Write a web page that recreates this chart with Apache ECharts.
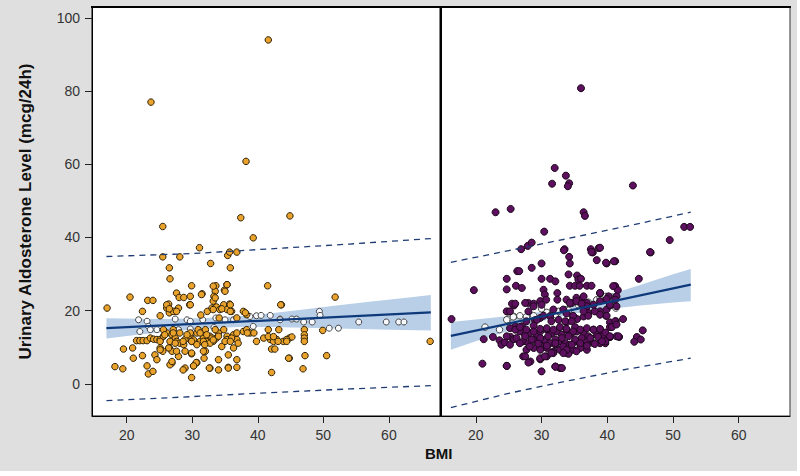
<!DOCTYPE html>
<html><head><meta charset="utf-8">
<script src="https://cdn.jsdelivr.net/npm/echarts@6/dist/echarts.min.js"></script>
<style>html,body{margin:0;padding:0;background:#fff;}#c{width:797px;height:471px;background:#dfdfdf;}</style>
</head><body><div id="c"></div>
<script>
var xTicks = [20, 30, 40, 50, 60];
var yTicks = [0, 20, 40, 60, 80, 100];
var xTitle = 'BMI';
var yTitle = 'Urinary Aldosterone Level (mcg/24h)';

// Left panel observed points
var leftPoints = [
[41.6,94.0],[23.7,77.0],[38.2,60.8],[25.5,43.0],[37.4,45.4],[44.9,45.9],[39.3,39.9],[31.1,37.2],
[25.5,34.7],[28.1,34.7],[26.5,31.7],[32.8,32.9],[35.4,35.1],[35.8,31.7],[36.8,36.0],[35.7,36.0],
[26.6,28.7],[29.9,26.8],[33.6,26.8],[35.3,27.1],[33.5,25.3],[34.9,25.6],[41.5,26.8],
[20.5,23.7],[23.2,22.8],[24.0,22.8],[27.6,24.8],[28.0,23.6],[28.7,23.6],[29.7,23.9],[31.5,24.6],[33.3,23.9],[33.2,22.6],
[17.0,20.7],[22.4,19.8],[26.4,21.8],[26.1,20.7],[27.9,20.7],[29.6,21.6],[27.4,19.8],[32.3,19.8],[33.0,20.7],[33.7,21.0],
[34.8,21.6],[35.7,21.8],[36.0,19.8],[34.2,20.3],[35.3,20.3],[37.8,19.8],[38.3,18.9],[43.6,21.6],[31.3,18.8],[34.1,18.0],
[36.8,18.0],[25.1,18.6],[26.5,19.4],[27.1,19.8],
[21.5,11.8],[22.0,11.8],[22.5,11.8],[23.1,11.8],[23.6,12.5],[24.1,12.2],[24.6,12.1],[25.1,12.1],[25.6,13.0],[26.1,13.9],
[26.9,13.4],[27.4,12.5],[27.6,11.6],[28.1,11.1],[28.9,12.1],[29.7,13.0],[29.9,11.6],[30.7,13.9],[31.2,11.6],[31.7,12.5],
[32.2,11.6],[32.7,13.0],[33.2,11.6],[33.7,12.5],[34.0,13.9],[34.8,14.8],[35.3,13.0],[35.8,12.1],[36.3,13.4],[36.8,12.1],
[37.8,14.3],[38.3,14.8],[38.8,13.9],[39.8,11.6],[40.9,12.5],[41.9,12.1],[42.9,12.1],[43.9,11.6],[41.6,14.8],[43.2,14.8],
[25.6,14.8],[27.1,14.8],[29.7,13.9],[30.9,14.8],[32.0,14.8],[33.5,14.8],
[19.5,9.5],[20.9,9.8],[22.4,7.7],[21.0,7.0],[24.3,7.9],[24.6,6.6],[25.1,9.8],[25.5,8.9],[26.5,9.8],[26.9,8.9],[27.9,7.5],
[28.7,10.7],[26.9,5.7],[29.9,8.2],[30.7,5.8],[30.2,4.9],[32.0,8.9],[31.8,7.0],[34.0,6.6],[34.5,10.2],[35.5,7.9],[36.3,9.8],
[36.8,6.6],[18.2,4.7],[19.4,4.1],[23.1,4.9],[23.3,2.7],[24.0,3.4],[29.9,1.7],[32.7,4.3],[34.0,3.8],[35.5,4.5],[36.8,4.5],
[42.1,3.1],[28.9,4.3],[26.6,5.2],[42.1,9.5],[42.4,11.6],
[51.8,23.7],[44.8,12.5],[45.2,12.8],[44.4,12.1],[47.1,14.8],[47.1,13.4],[47.1,12.5],[47.1,11.6],[49.9,14.6],[44.8,7.0],
[47.2,7.7],[50.5,7.7],[46.9,4.1],[66.3,11.6],
[26.1,21.6],[26.5,20.5],[27.6,19.8],[29.7,21.6],[31.4,24.4],[33.2,26.7],[33.5,23.5],[35.0,25.3],[35.3,27.1],[33.2,20.3],
[34.5,20.5],[35.8,21.6],[35.8,19.8],[38.1,19.4],[43.5,21.6],
[25.8,13.4],[27.1,13.9],[28.1,13.9],[29.2,13.4],[30.2,12.0],[31.2,13.9],[32.2,13.4],[33.0,12.5],[34.0,13.0],[35.3,12.1],
[36.0,12.5],[36.8,13.9],[38.4,13.9],[39.4,13.9],
[25.1,11.6],[26.6,11.6],[27.4,11.1],[28.6,11.6],[29.9,11.6],[30.7,10.7],[31.7,11.6],[32.7,11.1],[33.2,12.0],[35.0,11.6],
[35.8,11.6],[37.0,11.1],[41.6,12.9],[42.4,12.9],[43.1,11.6],[42.6,9.5],
[25.1,9.3],[26.4,9.8],[27.6,8.9],[28.9,8.9],[29.9,8.4],[31.9,10.7],[31.7,8.9],[26.9,6.1],[30.6,5.8],[28.6,3.8],[30.2,4.9],
[32.6,4.3],[35.5,4.3],[44.4,11.6],[44.7,7.0]
];
var leftOpen = [
[21.8,17.5],[23.1,17.1],[23.3,15.7],[24.6,14.8],[27.4,17.7],[29.2,17.5],[29.7,17.1],[31.6,17.5],[33.6,18.0],[35.0,17.5],
[36.3,17.5],[38.8,18.4],[39.8,18.6],[40.5,18.7],[41.9,18.7],[43.4,17.7],[22.0,14.3],[23.6,14.8],[27.9,14.8],[29.7,15.0],
[33.3,15.4],[39.3,15.7],
[43.4,17.5],[45.2,17.7],[45.9,17.7],[47.0,16.9],[48.3,16.9],[49.4,19.8],[49.5,18.7],[50.9,15.2],[52.3,15.2],[55.4,16.9],
[59.6,16.9],[61.5,16.9],[62.3,16.9]
];
var leftFitX = [16.9, 66.4];
var leftFitY = [15.2, 19.5];
var leftBandX = [16.9, 22, 27, 32, 37, 42, 47, 52, 57, 62, 66.4];
var leftBandLo = [12.4, 13.5, 14.4, 15.1, 15.5, 15.5, 15.35, 15.15, 14.9, 14.7, 14.6];
var leftBandHi = [17.9, 17.8, 17.7, 18.0, 18.5, 19.3, 20.3, 21.4, 22.4, 23.4, 24.3];
var leftPredX = [16.9, 30, 42, 54, 66.4];
var leftPredHi = [34.8, 35.6, 36.9, 38.2, 39.7];
var leftPredLo = [-4.6, -3.5, -2.4, -1.4, -0.5];

// Right panel observed points
var rightPoints = [
[36.0,80.8],[32.0,59.0],[33.7,56.9],[31.6,54.7],[34.2,54.8],[34.0,54.0],[43.9,54.2],[23.0,46.9],[25.3,47.8],[36.4,46.9],
[36.6,45.9],[30.4,41.6],[51.7,42.9],[52.6,42.9],[49.5,39.3],[26.9,36.8],[27.9,37.7],[28.5,38.6],[33.5,36.8],[37.5,36.8],
[37.8,35.9],[38.7,37.1],[46.6,35.9],[34.2,34.7],
[46.5,36.0],[38.9,37.2],[39.9,32.9],[41.2,33.5],[44.8,28.7],[41.2,26.7],[41.6,25.6],[38.9,24.8],[38.9,19.8],[39.8,18.6],
[40.4,16.8],[41.3,17.1],[42.4,17.7],[40.4,15.5],[39.3,13.7],[40.4,12.8],[41.8,12.8],[45.4,14.6],[44.5,12.8],[45.1,12.1],
[44.1,11.5],[39.7,11.1],[39.4,12.1],
[16.3,17.7],[19.7,25.6],[21.2,12.2],[21.0,5.5],[24.7,4.9],[22.6,12.8],[23.6,11.9],[23.9,10.7],[24.4,11.3],[25.3,12.8],
[25.8,12.2],[26.3,30.8],[26.6,30.8],[28.5,31.7],[30.0,32.9],[26.1,26.8],[27.0,26.2],[30.0,28.7],[31.3,28.7],[32.1,28.0],
[24.7,25.8],[25.8,21.4],[24.7,19.8],[28.0,22.1],[27.5,22.1],[28.8,21.9],[29.8,22.6],[34.3,26.8],[35.1,26.8],[35.8,26.8],
[36.9,26.8],[37.6,26.8],[34.1,29.9],[35.4,29.6],[35.6,28.5],[33.4,36.5],[37.6,36.0],[38.4,33.8],[39.8,33.1],[41.0,33.5],
[30.3,25.7],[30.5,24.4],[30.7,23.0],[32.4,24.8],[32.4,23.0],[33.8,23.0],[34.6,22.1],[35.9,23.0],[36.9,22.1],[38.9,24.8],
[40.2,23.9],[41.4,23.9],[40.9,26.7],[26.0,15.7],[27.0,15.7],[27.7,17.1],[29.0,17.4],[29.8,18.0],[31.3,18.5],[33.8,16.8],
[34.8,18.4],[35.4,17.7],[36.4,18.4],[37.1,19.4],[38.1,19.8],[38.9,18.9],[39.9,20.3],[40.4,21.4],[41.4,21.2],
[26.7,14.3],[27.5,13.4],[28.2,13.9],[29.3,13.4],[29.8,14.3],[30.8,14.8],[31.6,13.9],[32.3,14.3],[33.1,13.4],[33.8,14.8],
[34.6,13.9],[35.4,14.3],[36.4,13.9],[37.1,13.0],[37.9,14.8],[38.4,13.4],[39.4,13.0],[40.4,12.8],[41.4,13.0],
[27.2,11.6],[28.0,11.1],[28.8,12.0],[29.8,10.7],[30.5,12.0],[31.3,11.1],[32.1,10.7],[32.8,11.6],[33.6,11.1],[34.3,10.7],
[35.1,11.6],[35.9,10.7],[36.9,11.6],[37.9,11.1],[38.9,11.1],[39.7,11.6],
[27.7,9.3],[28.8,9.8],[29.8,9.3],[30.8,9.8],[31.8,8.8],[32.8,9.3],[33.8,8.4],[34.8,9.3],[35.9,9.8],[36.9,9.3],
[27.2,7.5],[28.3,6.1],[29.8,6.7],[30.8,7.5],[31.8,8.4],[32.1,4.7],[32.8,4.3],[34.1,8.2],
[24.7,28.7],[34.3,32.9],[36.0,28.7],[35.3,23.5],[36.4,23.9],[28.8,21.2],[28.0,19.8],[25.5,21.9],[26.0,21.9],[25.2,19.8],
[36.9,21.2],[37.9,21.6],[38.9,22.6],[39.9,23.2],[41.2,23.0],[40.4,21.6],[34.3,22.1],[35.3,22.6],[36.1,21.9],
[33.3,20.3],[33.8,19.2],[34.8,18.6],[36.4,19.8],[37.1,18.6],[39.9,18.6],[41.2,17.1],[40.7,15.5],[41.4,16.2],[39.7,14.0],
[31.8,20.3],[32.6,17.5],[31.5,17.1],[33.6,17.1],[34.6,17.1],[35.1,15.5],[30.0,21.6],[30.3,18.6],[29.3,17.5],[28.8,15.9],
[25.2,15.2],[26.0,14.8],[26.7,15.5],[27.7,14.8],[28.8,14.3],[29.8,15.0],[30.8,15.2],[31.8,14.8],[32.8,15.5],[33.8,15.0],
[34.8,14.3],[35.9,14.8],[36.9,15.2],[37.9,14.8],[38.9,15.0],
[24.7,13.0],[26.2,12.5],[27.5,13.0],[28.5,12.1],[29.8,12.5],[31.0,13.0],[32.1,12.1],[33.1,12.5],[34.1,13.0],[35.1,12.1],
[36.1,12.5],[37.4,12.5],[38.6,12.8],[40.4,13.0],[41.7,13.0],
[25.2,10.7],[26.7,11.1],[28.2,10.2],[29.5,11.0],[30.8,10.4],[32.1,11.1],[33.3,10.2],[34.6,10.7],[35.9,11.1],[36.9,10.4],
[38.1,10.9],[39.2,11.6],
[33.8,9.3],[35.3,8.9],[33.3,8.4],[27.5,7.5],[28.0,5.8],[29.8,7.0],[30.5,7.5],[31.5,8.4],[32.1,4.7],[33.1,4.3],[30.0,3.4],
[24.7,4.9]
];
var rightOpen = [
[21.4,15.5],[23.6,14.8],[24.9,17.7],[25.8,18.4],[26.7,18.6],[27.7,18.3],[28.8,18.6],[30.0,20.5],[30.8,19.5],[32.1,18.9],
[32.6,19.8],[33.8,20.3],[34.1,20.1],[35.6,21.6],[35.9,21.9],[37.1,22.3],[38.4,23.0],[38.9,23.5],[39.8,23.9],[40.7,23.7],
[41.3,20.7],[41.2,23.7],[24.7,17.5],[25.7,18.3]
];
var rightFitX = [16.2, 52.7];
var rightFitY = [13.1, 27.1];
var rightBandX = [16.2, 20, 25, 30, 35, 40, 45, 50, 52.7];
var rightBandLo = [9.3, 11.6, 14.45, 17.1, 19.2, 20.4, 21.4, 22.25, 22.6];
var rightBandHi = [16.9, 17.6, 18.55, 19.7, 21.6, 24.2, 27.0, 29.95, 31.4];
var rightPredX = [16.2, 25, 34, 43, 52.7];
var rightPredHi = [33.2, 36.4, 39.7, 43.1, 46.9];
var rightPredLo = [-6.5, -2.6, 0.8, 4.0, 7.0];

var FONT = '"Liberation Sans", Arial, sans-serif';
function zip(xs, ys) { return xs.map(function (x, i) { return [x, ys[i]]; }); }

function band(idx, xs, lo, hi) {
  return {
    type: 'custom', xAxisIndex: idx, yAxisIndex: idx, z: 1, silent: true,
    data: [[xs[0], lo[0]]],
    renderItem: function (params, api) {
      var pts = [];
      for (var i = 0; i < xs.length; i++) pts.push(api.coord([xs[i], hi[i]]));
      for (var j = xs.length - 1; j >= 0; j--) pts.push(api.coord([xs[j], lo[j]]));
      return { type: 'polygon', shape: { points: pts }, style: { fill: '#b9cfe8' } };
    }
  };
}
function scatter(idx, data, fill, border, size, z) {
  return { type: 'scatter', xAxisIndex: idx, yAxisIndex: idx, data: data, symbolSize: size, z: z, silent: true,
    itemStyle: { color: fill, borderColor: border, borderWidth: 1, opacity: 1 } };
}
function line(idx, data, dashed, z) {
  return { type: 'line', xAxisIndex: idx, yAxisIndex: idx, data: data, symbol: 'none', z: z, silent: true,
    lineStyle: dashed ? { color: '#1f3c74', width: 1.3, type: [6, 5] } : { color: '#0e3a7c', width: 2.2 } };
}
function xAx(g) {
  return { gridIndex: g, type: 'value', min: 14.7, max: 67.8,
    axisLine: { show: true, onZero: false, lineStyle: { color: '#000', width: 1 } },
    axisTick: { show: true, customValues: xTicks, length: 7, lineStyle: { color: '#222' } },
    axisLabel: { customValues: xTicks, fontSize: 14, color: '#333', margin: 12, fontFamily: FONT },
    splitLine: { show: false } };
}
var option = {
  animation: false,
  backgroundColor: 'transparent',
  grid: [
    { left: 92, top: 7, width: 348, height: 409, show: true, backgroundColor: '#fff', borderColor: '#000', borderWidth: 1 },
    { left: 441, top: 7, width: 349, height: 409, show: true, backgroundColor: '#fff', borderColor: '#333', borderWidth: 1 }
  ],
  title: { text: xTitle, left: 420, top: 441, textStyle: { fontSize: 15, fontWeight: 'bold', color: '#111', fontFamily: FONT } },
  xAxis: [xAx(0), xAx(1)],
  yAxis: [
    { gridIndex: 0, type: 'value', min: -8.8, max: 103,
      name: yTitle, nameLocation: 'middle', nameGap: 58,
      nameTextStyle: { fontSize: 17, fontWeight: 'bold', color: '#111', fontFamily: FONT },
      axisLine: { show: true, onZero: false, lineStyle: { color: '#000', width: 1 } },
      axisTick: { show: true, customValues: yTicks, length: 7, lineStyle: { color: '#222' } },
      axisLabel: { customValues: yTicks, fontSize: 14, color: '#333', margin: 12, fontFamily: FONT },
      splitLine: { show: false } },
    { gridIndex: 1, type: 'value', min: -8.8, max: 103,
      axisLine: { show: true, onZero: false, lineStyle: { color: '#000', width: 2 } },
      axisTick: { show: false }, axisLabel: { show: false }, splitLine: { show: false } }
  ],
  graphic: [
    { type: 'line', shape: { x1: 91, y1: 7, x2: 791, y2: 7 }, style: { stroke: '#000', lineWidth: 2 }, z: 100 }
  ],
  series: [
    band(0, leftBandX, leftBandLo, leftBandHi),
    band(1, rightBandX, rightBandLo, rightBandHi),
    scatter(0, leftOpen, '#f7f9fc', '#444', 6, 3),
    scatter(1, rightOpen, '#f7f9fc', '#444', 6.5, 3),
    scatter(0, leftPoints, '#e9a22c', '#2e2108', 6.5, 4),
    scatter(1, rightPoints, '#5d105d', '#1c081c', 7, 4),
    line(0, zip(leftFitX, leftFitY), false, 6),
    line(1, zip(rightFitX, rightFitY), false, 6),
    line(0, zip(leftPredX, leftPredHi), true, 6),
    line(0, zip(leftPredX, leftPredLo), true, 6),
    line(1, zip(rightPredX, rightPredHi), true, 6),
    line(1, zip(rightPredX, rightPredLo), true, 6)
  ]
};
var chart = echarts.init(document.getElementById('c'), null, { renderer: 'svg' });
chart.setOption(option);
</script></body></html>
